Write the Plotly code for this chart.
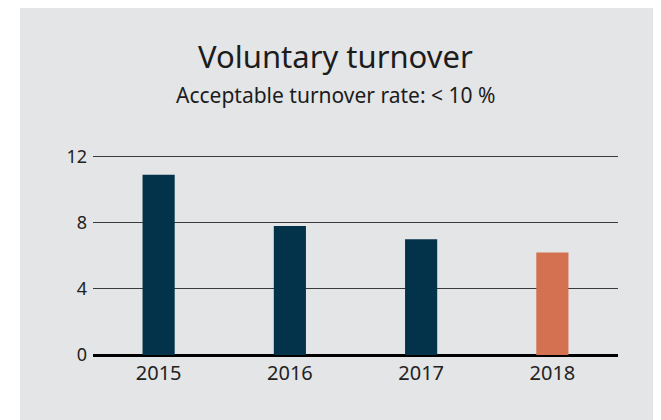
import plotly.graph_objects as go

# data
years = ["2015", "2016", "2017", "2018"]
turnover = [10.9, 7.8, 7.0, 6.2]
bar_colors = ["#03334a", "#03334a", "#03334a", "#d37150"]
y_ticks = [0, 4, 8, 12]

FONT = "Noto Sans, Lato, sans-serif"
PANEL = "#e4e5e7"

fig = go.Figure()
fig.add_trace(go.Bar(
    x=years, y=turnover,
    marker=dict(color=bar_colors, line=dict(width=0)),
    width=0.245, hoverinfo="x+y",
))

# grey panel behind the chart (thin white strip on the left)
fig.add_shape(type="rect", xref="paper", yref="paper",
              x0=-0.139, x1=1.2, y0=-0.45, y1=1.85,
              fillcolor=PANEL, line_width=0, layer="below")

fig.add_annotation(text="Voluntary turnover", xref="paper", yref="paper",
                   x=0.461, y=1.495, showarrow=False, xanchor="center", yanchor="middle",
                   font=dict(family=FONT, size=31, color="#1c1c1c"))
fig.add_annotation(text="Acceptable turnover rate: < 10 %", xref="paper", yref="paper",
                   x=0.461, y=1.300, showarrow=False, xanchor="center", yanchor="middle",
                   font=dict(family=FONT, size=21, color="#1c1c1c"))

fig.update_layout(
    width=661, height=420,
    margin=dict(l=85, r=51, t=147, b=73),
    paper_bgcolor="white", plot_bgcolor=PANEL,
    showlegend=False,
    font=dict(family=FONT, color="#222222"),
)
fig.update_xaxes(showgrid=False, showline=False, zeroline=False, ticks="",
                 tickfont=dict(size=20), ticklabelstandoff=4)
fig.update_yaxes(range=[0, 12.1], tickvals=y_ticks, showgrid=True,
                 gridcolor="#3a3a3a", gridwidth=1,
                 zeroline=True, zerolinecolor="#000000", zerolinewidth=3,
                 showline=False, ticks="", tickfont=dict(size=18),
                 ticklabelstandoff=5)

fig.write_html("out.html")
